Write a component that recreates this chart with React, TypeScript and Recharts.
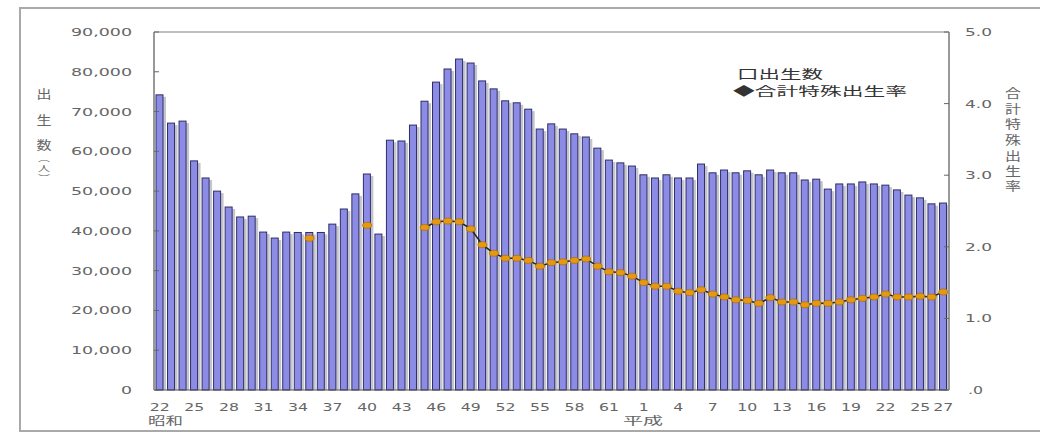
import { Bar, ComposedChart, Line, ReferenceLine, XAxis, YAxis } from "recharts";

// 昭和22〜63年, 平成1〜27年
const showaYears = [
  22, 23, 24, 25, 26, 27, 28, 29, 30, 31, 32, 33, 34, 35, 36, 37, 38, 39, 40, 41, 42,
  43, 44, 45, 46, 47, 48, 49, 50, 51, 52, 53, 54, 55, 56, 57, 58, 59, 60, 61, 62, 63,
];
const heiseiYears = [
  1, 2, 3, 4, 5, 6, 7, 8, 9, 10, 11, 12, 13, 14, 15, 16, 17, 18, 19, 20, 21, 22, 23, 24, 25, 26, 27,
];

// 出生数（人）
const births = [
  74200, 67100, 67600, 57600, 53300, 50000, 46000, 43500, 43700, 39700, 38200, 39700, 39600, 39600,
  39600, 41700, 45500, 49300, 54300, 39200, 62800, 62600, 66600, 72600, 77400, 80700, 83200, 82200,
  77700, 75700, 72700, 72200, 70600, 65600, 66900, 65600, 64400, 63600, 60800, 57800, 57100, 56300,
  54100, 53300, 54100, 53300, 53300, 56800, 54600, 55300, 54600, 55100, 54100, 55300, 54600, 54600,
  52800, 53000, 50500, 51800, 51800, 52300, 51800, 51500, 50300, 49000, 48300, 46800, 47000,
];

// 合計特殊出生率
const fertility: (number | null)[] = [
  null, null, null, null, null, null, null, null, null, null, null, null, null, 2.12,
  null, null, null, null, 2.3, null, null, null, null, 2.27, 2.35, 2.36, 2.35, 2.25,
  2.03, 1.91, 1.84, 1.84, 1.81, 1.73, 1.78, 1.79, 1.81, 1.83, 1.73, 1.65, 1.64, 1.59,
  1.5, 1.45, 1.45, 1.38, 1.36, 1.4, 1.34, 1.3, 1.26, 1.25, 1.21, 1.29, 1.23, 1.23,
  1.19, 1.21, 1.21, 1.23, 1.26, 1.28, 1.3, 1.34, 1.3, 1.3, 1.31, 1.3, 1.37,
];

const leftTicks = [0, 10000, 20000, 30000, 40000, 50000, 60000, 70000, 80000, 90000];
const rightTicks = [0, 1, 2, 3, 4, 5];

const yearLabels = [...showaYears.map((y) => String(y)), ...heiseiYears.map((y) => String(y))];
const data = yearLabels.map((label, i) => ({
  key: (i < showaYears.length ? "S" : "H") + label,
  label,
  births: births[i],
  rate: fertility[i],
}));

const TEXT = "#666";
const FONT = "DejaVu Sans, sans-serif";
const JP = "Noto Sans CJK JP, sans-serif";

function LeftTick(props: any) {
  const { y, payload } = props;
  const text = Number(payload.value).toLocaleString("en-US");
  const len = text.replace(/,/g, "").length * 11 + (text.includes(",") ? 6 : 0);
  return (
    <g>
      <line x1={154} x2={159} y1={y} y2={y} stroke="#666" />
      <text x={132} y={y + 4} textAnchor="end" fontSize={10.5} fill={TEXT} fontFamily={FONT}
        textLength={len} lengthAdjust="spacingAndGlyphs">{text}</text>
    </g>
  );
}

function RightTick(props: any) {
  const { y, payload } = props;
  const v = Number(payload.value);
  const text = v === 0 ? ".0" : v.toFixed(1);
  const len = v === 0 ? 15 : 27;
  return (
    <g>
      <line x1={944} x2={949} y1={y} y2={y} stroke="#666" />
      <text x={v === 0 ? 968 : 965} y={y + 4} fontSize={10.5} fill={TEXT} fontFamily={FONT}
        textLength={len} lengthAdjust="spacingAndGlyphs">{text}</text>
    </g>
  );
}

function BottomTick(props: any) {
  const { x, payload, index } = props;
  const i = typeof index === "number" ? index : data.findIndex((d) => d.key === payload.value);
  if (!(i % 3 === 0 || i === data.length - 1)) return <g />;
  const label = data[i].label;
  return (
    <text x={x} y={411} textAnchor="middle" fontSize={10.5} fill={TEXT} fontFamily={FONT}
      textLength={label.length * 10} lengthAdjust="spacingAndGlyphs">{label}</text>
  );
}

function ShadowBar(props: any) {
  const { x, y, width, height } = props;
  if (!height || height <= 0) return <g />;
  return (
    <g>
      <rect x={x + width} y={y + 2} width={3} height={height - 2} fill="#c4c4cc" />
      <rect x={x} y={y} width={width} height={height} fill="#8c8ce6" stroke="#2e2e66" strokeWidth={1} />
    </g>
  );
}

function RateDot(props: any) {
  const { cx, cy, index } = props;
  if (cx == null || cy == null || props.value == null) return <g key={"d" + index} />;
  return (
    <ellipse key={"d" + index} cx={cx} cy={cy} rx={4.5} ry={3}
      fill="#e39a12" stroke="#b86e00" strokeWidth={0.8} />
  );
}

function VText({ chars, x, ys, w, size = 12 }: { chars: string[]; x: number; ys: number[]; w: number; size?: number }) {
  return (
    <>
      {chars.map((c, i) => (
        <text key={i} x={x} y={ys[i] + 4} textAnchor="middle" fontSize={size} fill={TEXT} fontFamily={JP}
          textLength={w} lengthAdjust="spacingAndGlyphs">{c}</text>
      ))}
    </>
  );
}

export default function App() {
  return (
    <div style={{ position: "absolute", left: 0, top: 0, width: 1040, height: 433, background: "#fff", overflow: "hidden" }}>
      <div style={{ position: "absolute", left: 19, top: 7, width: 1040, height: 421, border: "2px solid #a9a9a9" }} />
      <div style={{ position: "absolute", left: 0, top: 0 }}>
        <ComposedChart width={1040} height={433} data={data} margin={{ top: 32, right: 0, bottom: 0, left: 0 }}
          barSize={7}>
          <XAxis dataKey="key" height={43} interval={0} tickLine={false}
            axisLine={{ stroke: "#555" }} tick={<BottomTick />} />
          <YAxis yAxisId="left" orientation="left" width={154} domain={[0, 90000]} ticks={leftTicks}
            tickLine={false} axisLine={{ stroke: "#999", strokeWidth: 2 }} tick={<LeftTick />} />
          <YAxis yAxisId="right" orientation="right" width={91} domain={[0, 5]} ticks={rightTicks}
            tickLine={false} axisLine={{ stroke: "#999", strokeWidth: 2 }} tick={<RightTick />} />
          <ReferenceLine yAxisId="left" y={90000} stroke="#aaa" strokeWidth={1.5} />
          <Bar yAxisId="left" dataKey="births" shape={<ShadowBar />} isAnimationActive={false} />
          <Line yAxisId="right" dataKey="rate" stroke="#222" strokeWidth={1.5} connectNulls={false}
            dot={RateDot} activeDot={false} isAnimationActive={false} />
        </ComposedChart>
      </div>
      <svg width={1040} height={433} style={{ position: "absolute", left: 0, top: 0, pointerEvents: "none" }}>
        <VText chars={["出", "生", "数"]} x={44} ys={[95, 121, 146]} w={15} />
        <VText chars={["︵", "人", "︶"]} x={44} ys={[157, 167, 177]} w={12} size={8} />
        <VText chars={["合", "計", "特", "殊", "出", "生", "率"]} x={1013}
          ys={[94, 110, 125, 141, 157, 172, 187]} w={16} />
        <text x={737} y={79} fontSize={12} fill="#333" fontFamily={JP} textLength={86}
          lengthAdjust="spacingAndGlyphs">口出生数</text>
        <text x={733} y={96} fontSize={12} fill="#333" fontFamily={JP} textLength={174}
          lengthAdjust="spacingAndGlyphs">◆合計特殊出生率</text>
        <text x={148} y={425} fontSize={11} fill={TEXT} fontFamily={JP} textLength={35}
          lengthAdjust="spacingAndGlyphs">昭和</text>
        <text x={623} y={425} fontSize={11} fill={TEXT} fontFamily={JP} textLength={40}
          lengthAdjust="spacingAndGlyphs">平成</text>
      </svg>
    </div>
  );
}
